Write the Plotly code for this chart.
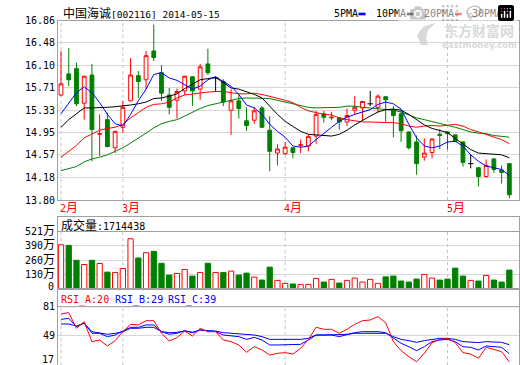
import plotly.graph_objects as go

# ---------------- data ----------------
N = 59
x_idx = list(range(N))

opens = [15.59, 15.95, 16.04, 15.45, 15.93, 14.92, 15.17, 14.69, 15.04, 15.49,
         15.92, 15.85, 16.34, 15.97, 15.59, 15.50, 15.66, 15.90, 15.69, 16.12,
         15.88, 15.82, 15.33, 15.49, 15.15, 15.16, 15.37, 14.99, 14.60, 14.59,
         14.69, 14.73, 14.72, 14.89, 15.27, 15.20, 15.20, 15.13, 15.33, 15.37,
         15.44, 15.38, 15.56, 15.34, 15.27, 14.96, 14.79, 14.53, 14.61, 14.92,
         14.96, 14.91, 14.79, 14.42, 14.35, 14.20, 14.50, 14.31, 14.42]
highs = [16.34, 16.39, 16.14, 15.91, 16.12, 15.26, 15.29, 14.98, 15.49, 16.22,
         16.00, 16.34, 16.79, 16.10, 15.71, 15.70, 15.92, 15.91, 16.12, 16.38,
         15.91, 15.86, 15.69, 15.60, 15.38, 15.38, 15.40, 15.23, 14.75, 14.79,
         14.70, 14.83, 14.92, 15.32, 15.32, 15.30, 15.21, 15.36, 15.57, 15.48,
         15.66, 15.60, 15.57, 15.40, 15.32, 14.97, 14.90, 14.85, 14.85, 15.01,
         14.97, 14.92, 14.80, 14.57, 14.36, 14.49, 14.51, 14.39, 14.43]
lows = [15.57, 15.74, 15.40, 15.17, 14.46, 14.55, 14.70, 14.60, 14.95, 15.48,
        15.54, 15.69, 16.17, 15.49, 15.26, 15.19, 15.59, 15.40, 15.51, 15.93,
        15.65, 15.40, 14.91, 15.19, 14.98, 15.10, 15.03, 14.29, 14.39, 14.57,
        14.51, 14.60, 14.63, 14.76, 15.12, 15.16, 15.00, 15.06, 15.26, 15.15,
        15.40, 15.29, 15.13, 14.87, 14.79, 14.66, 14.23, 14.47, 14.51, 14.67,
        14.66, 14.79, 14.37, 14.34, 14.03, 14.18, 14.26, 14.08, 13.83]
closes = [15.78, 15.85, 15.44, 15.91, 15.00, 14.93, 14.71, 14.97, 15.38, 15.93,
          15.82, 16.26, 16.23, 15.62, 15.38, 15.65, 15.91, 15.66, 16.07, 15.97,
          15.88, 15.47, 15.49, 15.36, 15.07, 15.32, 15.04, 14.63, 14.67, 14.70,
          14.61, 14.74, 14.88, 15.26, 15.21, 15.21, 15.13, 15.24, 15.38, 15.48,
          15.44, 15.57, 15.51, 15.24, 14.98, 14.69, 14.42, 14.60, 14.84, 14.90,
          14.93, 14.80, 14.44, 14.42, 14.20, 14.39, 14.32, 14.27, 13.89]

ma5 = [15.27, 15.46, 15.63, 15.73, 15.63, 15.46, 15.26, 15.10, 15.06, 15.26,
       15.49, 15.69, 15.94, 15.97, 15.88, 15.84, 15.77, 15.69, 15.74, 15.85,
       15.90, 15.82, 15.74, 15.60, 15.42, 15.37, 15.26, 15.09, 14.97, 14.87,
       14.72, 14.70, 14.72, 14.83, 14.94, 15.04, 15.14, 15.21, 15.26, 15.30,
       15.34, 15.43, 15.47, 15.44, 15.35, 15.09, 14.86, 14.72, 14.69, 14.72,
       14.79, 14.80, 14.72, 14.57, 14.46, 14.38, 14.35, 14.32, 14.22]
ma10 = [15.04, 15.17, 15.27, 15.37, 15.37, 15.37, 15.38, 15.39, 15.40, 15.42,
        15.44, 15.47, 15.53, 15.54, 15.57, 15.61, 15.70, 15.78, 15.85, 15.87,
        15.89, 15.80, 15.71, 15.69, 15.65, 15.60, 15.54, 15.40, 15.26, 15.14,
        15.06, 14.97, 14.92, 14.91, 14.90, 14.89, 14.92, 14.99, 15.08, 15.16,
        15.23, 15.30, 15.34, 15.35, 15.33, 15.26, 15.17, 15.08, 15.02, 14.99,
        14.95, 14.85, 14.76, 14.66, 14.60, 14.59, 14.59, 14.57, 14.52]
ma20 = [14.53, 14.63, 14.73, 14.86, 14.93, 14.99, 15.02, 15.04, 15.09, 15.20,
        15.29, 15.38, 15.43, 15.44, 15.47, 15.54, 15.59, 15.61, 15.63, 15.64,
        15.65, 15.65, 15.63, 15.61, 15.61, 15.62, 15.60, 15.57, 15.54, 15.50,
        15.46, 15.38, 15.32, 15.29, 15.26, 15.25, 15.20, 15.17, 15.15, 15.13,
        15.13, 15.12, 15.12, 15.12, 15.10, 15.06, 15.04, 15.06, 15.07, 15.06,
        15.08, 15.09, 15.06, 15.00, 14.96, 14.92, 14.87, 14.83, 14.76]
ma30 = [14.30, 14.33, 14.37, 14.45, 14.50, 14.53, 14.57, 14.63, 14.69, 14.77,
        14.85, 14.94, 15.03, 15.10, 15.14, 15.17, 15.23, 15.30, 15.36, 15.41,
        15.44, 15.47, 15.51, 15.53, 15.54, 15.54, 15.54, 15.53, 15.50, 15.47,
        15.43, 15.40, 15.38, 15.37, 15.37, 15.37, 15.38, 15.40, 15.40, 15.38,
        15.37, 15.36, 15.34, 15.33, 15.30, 15.25, 15.20, 15.17, 15.14, 15.10,
        15.08, 15.04, 15.00, 14.96, 14.94, 14.93, 14.90, 14.89, 14.87]

# volume in 万 (10k shares)
volumes = [401, 395, 260, 222, 260, 231, 153, 150, 186, 455,
           281, 329, 341, 233, 126, 141, 177, 117, 150, 233,
           150, 150, 162, 126, 144, 108, 81, 198, 78, 51,
           45, 42, 42, 96, 63, 87, 54, 78, 99, 63,
           87, 51, 110, 117, 72, 63, 90, 132, 99, 81,
           90, 189, 117, 78, 72, 123, 81, 63, 171.4438]

rsi_a = [72.9, 74.4, 57.1, 64.4, 42.4, 44.2, 37.6, 43.5, 53.4, 61.5,
         60.8, 65.5, 65.5, 51.6, 43.1, 46.8, 54.1, 48.6, 57.1, 53.4,
         53.4, 44.2, 42.4, 38.7, 30.6, 36.8, 33.2, 27.6, 29.5, 30.2,
         28.7, 35.0, 44.9, 58.2, 56.0, 56.0, 51.6, 56.0, 61.5, 65.5,
         66.3, 70.0, 63.3, 42.4, 32.4, 25.8, 20.3, 29.5, 41.3, 44.9,
         46.0, 41.3, 30.2, 28.7, 24.0, 36.1, 33.9, 31.3, 20.0]
rsi_b = [67.0, 68.1, 58.9, 63.3, 51.6, 51.6, 47.9, 49.7, 54.1, 58.2,
         58.2, 60.8, 60.8, 53.4, 50.5, 51.6, 54.5, 52.3, 55.2, 54.1,
         53.4, 49.7, 48.6, 47.9, 44.9, 47.1, 44.2, 38.7, 38.7, 38.7,
         38.7, 39.4, 44.2, 49.7, 49.7, 49.7, 47.9, 50.5, 52.3, 53.4,
         53.4, 53.4, 52.3, 46.0, 40.5, 36.8, 32.4, 36.8, 42.4, 44.2,
         44.9, 42.4, 36.8, 36.1, 33.2, 37.6, 36.8, 36.1, 29.0]
rsi_c = [61.9, 61.9, 59.7, 62.6, 53.4, 52.3, 50.5, 51.6, 53.4, 57.1,
         57.1, 58.2, 58.2, 53.4, 52.3, 52.7, 54.1, 52.7, 55.2, 54.5,
         54.1, 52.3, 51.6, 50.8, 49.7, 49.7, 47.9, 44.9, 44.9, 44.9,
         44.9, 44.9, 46.0, 49.7, 49.7, 49.7, 49.7, 50.5, 51.6, 51.6,
         51.6, 51.6, 51.6, 47.9, 44.9, 43.5, 41.6, 43.5, 44.9, 46.0,
         46.0, 44.9, 42.4, 41.6, 41.3, 42.4, 41.6, 41.6, 39.0]

month_pos = [0, 8, 29, 50]
month_num = ["2", "3", "4", "5"]
price_ticks = [13.80, 14.18, 14.57, 14.95, 15.33, 15.71, 16.10, 16.48, 16.86]
vol_ticks = [130.25, 260.5, 390.75, 521]
vol_tick_nums = ["130", "260", "390", "521"]
rsi_ticks = [49, 81]

stock_name = "中国海诚"
stock_code = "[002116] 2014-05-15"
vol_label = "成交量"
vol_value = ":1714438"
ma_names = ["5PMA", "10PMA", "20PMA", "30PMA"]
rsi_names = ["RSI_A:20", "RSI_B:29", "RSI_C:39"]

# ---------------- styling / layout helpers ----------------
W, H = 520, 365
ML, MR = 58, 1
PW = W - ML - MR


def yp(px):
    return 1 - px / H


def xp(px):
    return (px - ML) / PW


def cjk(s, size=12):
    return f"<span style='font-size:{size}px'>{s}</span>"


RED = "#ff0000"
GREEN = "#008000"
BLUE = "#0000ff"
BLACK = "#000000"
BORDER = "#a0a0a0"
GRID = "#d6d6d6"
DASHC = "#c4c4c4"
WM = "#d9d9d9"
MONO = "DejaVu Sans Mono, Noto Sans CJK SC"
CJK = "Noto Sans CJK SC"

XR = [-0.39, 59.25]
main_dom = [yp(200), yp(20.5)]
vol_dom = [yp(289), yp(216.5)]
rsi_dom = [0, yp(289)]
VOL_TOP = 521 * (289 - 216.5) / (289 - 231.5)
RSI_R = [16.6, 100.5]

flat = [o == c for o, c in zip(opens, closes)]
cs_o = [None if f else v for f, v in zip(flat, opens)]
cs_h = [None if f else v for f, v in zip(flat, highs)]
cs_l = [None if f else v for f, v in zip(flat, lows)]
cs_c = [None if f else v for f, v in zip(flat, closes)]

fig = go.Figure()

# MA lines
for arr, col in zip([ma30, ma20, ma10, ma5], [GREEN, RED, BLACK, BLUE]):
    fig.add_trace(go.Scatter(x=x_idx, y=arr, mode="lines",
                             line=dict(color=col, width=1),
                             xaxis="x", yaxis="y", hoverinfo="skip"))

fig.add_trace(go.Candlestick(
    x=x_idx, open=cs_o, high=cs_h, low=cs_l, close=cs_c,
    increasing=dict(line=dict(color=RED, width=1), fillcolor="#ffffff"),
    decreasing=dict(line=dict(color=GREEN, width=1), fillcolor=GREEN),
    whiskerwidth=0, xaxis="x", yaxis="y", hoverinfo="skip"))

# flat (open == close) candles drawn in black
dx, dy = [], []
for i in x_idx:
    if flat[i]:
        dx += [i - 0.35, i + 0.35, None, i, i, None]
        dy += [opens[i], opens[i], None, highs[i], lows[i], None]
fig.add_trace(go.Scatter(x=dx, y=dy, mode="lines", line=dict(color=BLACK, width=1),
                         xaxis="x", yaxis="y", hoverinfo="skip"))

# volume
up = [c >= o for o, c in zip(opens, closes)]
fig.add_trace(go.Bar(
    x=x_idx, y=volumes, width=0.68,
    marker=dict(color=["#ffffff" if u else GREEN for u in up],
                line=dict(color=[RED if u else GREEN for u in up], width=1)),
    xaxis="x2", yaxis="y2", hoverinfo="skip"))

# RSI
for arr, col in zip([rsi_c, rsi_b, rsi_a], [BLUE, BLUE, RED]):
    fig.add_trace(go.Scatter(x=x_idx, y=arr, mode="lines",
                             line=dict(color=col, width=1),
                             xaxis="x3", yaxis="y3", hoverinfo="skip"))

tickfont = dict(family=MONO, size=10, color=BLACK)
xcommon = dict(range=XR, showticklabels=False, showgrid=False, zeroline=False,
               showline=True, mirror=True, linecolor=BORDER, linewidth=1,
               ticks="", fixedrange=True, automargin=False)
ycommon = dict(showgrid=True, gridcolor=GRID, gridwidth=1, zeroline=False,
               showline=True, mirror=True, linecolor=BORDER, linewidth=1,
               ticks="", tickfont=tickfont, fixedrange=True, automargin=False)

fig.update_layout(
    width=W, height=H,
    margin=dict(l=ML, r=MR, t=0, b=0, pad=0, autoexpand=False),
    paper_bgcolor="white", plot_bgcolor="white",
    showlegend=False, hovermode=False,
    xaxis=dict(**xcommon, domain=[0, 1], anchor="y", rangeslider=dict(visible=False)),
    yaxis=dict(**ycommon, domain=main_dom, anchor="x", range=[13.80, 16.86],
               tickvals=price_ticks, ticktext=[f"{v:.2f}" for v in price_ticks]),
    xaxis2=dict(**xcommon, domain=[0, 1], anchor="y2"),
    yaxis2=dict(**ycommon, domain=vol_dom, anchor="x2", range=[0, VOL_TOP],
                tickvals=vol_ticks, ticktext=[n + cjk("万") for n in vol_tick_nums]),
    xaxis3=dict(**xcommon, domain=[0, 1], anchor="y3"),
    yaxis3=dict(**ycommon, domain=rsi_dom, anchor="x3", range=RSI_R,
                tickvals=rsi_ticks, ticktext=[str(v) for v in rsi_ticks]),
)

shapes = []
# month dashed lines
dash_line = dict(color=DASHC, width=1, dash="3px,3px")
for m in month_pos:
    shapes.append(dict(type="line", xref="x", yref="y", x0=m, x1=m, y0=13.80, y1=16.86,
                       line=dash_line, layer="below"))
    shapes.append(dict(type="line", xref="x2", yref="y2", x0=m, x1=m, y0=0, y1=521,
                       line=dash_line, layer="below"))
    shapes.append(dict(type="line", xref="x3", yref="y3", x0=m, x1=m, y0=RSI_R[0], y1=81,
                       line=dash_line, layer="below"))
# header separator lines
shapes.append(dict(type="line", xref="paper", yref="y2", x0=0, x1=1, y0=521, y1=521,
                   line=dict(color=BORDER, width=1)))
shapes.append(dict(type="line", xref="paper", yref="y3", x0=0, x1=1, y0=81, y1=81,
                   line=dict(color=BORDER, width=1)))
# legend swatches
for (a, b), col in zip([(358.5, 365.5), (406.7, 413.3), (455, 461.7), (502.7, 509.3)],
                       [BLUE, BLACK, RED, GREEN]):
    shapes.append(dict(type="rect", xref="paper", yref="paper", x0=xp(a), x1=xp(b),
                       y0=yp(15.3), y1=yp(12.7), line=dict(width=0), fillcolor=col))
# watermark swoosh
pts = [(421, 45), (417, 35), (423, 27), (437, 22), (428, 30), (426, 38), (428, 45)]
path = "M " + " L ".join(f"{xp(a):.5f},{yp(b):.5f}" for a, b in pts) + " Z"
shapes.append(dict(type="path", xref="paper", yref="paper", path=path,
                   fillcolor=WM, line=dict(width=0), layer="below"))

annotations = []
annotations.append(dict(text=cjk(stock_name) + stock_code, xref="paper", yref="paper",
                        x=xp(61), y=yp(14), xanchor="left", yanchor="middle", showarrow=False,
                        font=dict(family=MONO, size=9.5, color=BLACK)))
for name, px in zip(ma_names, [331.5, 374, 421.5, 470]):
    annotations.append(dict(text=name, xref="paper", yref="paper", x=xp(px), y=yp(14),
                            xanchor="left", yanchor="middle", showarrow=False,
                            font=dict(family=MONO, size=10, color=BLACK)))
# watermark
annotations.append(dict(text="<b>东方财富网</b>", xref="paper", yref="paper", x=xp(479), y=yp(30),
                        xanchor="center", yanchor="middle", showarrow=False,
                        font=dict(family=CJK, size=14, color=WM)))
annotations.append(dict(text="<b>eastmoney.com</b>", xref="paper", yref="paper", x=xp(479), y=yp(45.5),
                        xanchor="center", yanchor="middle", showarrow=False,
                        font=dict(family="DejaVu Sans", size=8.5, color=WM)))
for m, num in zip(month_pos, month_num):
    annotations.append(dict(text=num + cjk("月"), xref="x", yref="paper", x=m, y=yp(207.5),
                            xanchor="left", yanchor="middle", xshift=-3, showarrow=False,
                            font=dict(family=MONO, size=10, color=RED)))
annotations.append(dict(text=cjk(vol_label) + vol_value, xref="paper", yref="paper",
                        x=xp(59), y=yp(225.5), xanchor="left", yanchor="middle", showarrow=False,
                        font=dict(family=MONO, size=10, color=BLACK)))
annotations.append(dict(text="0", xref="paper", yref="paper", x=xp(56), y=yp(286),
                        xanchor="right", yanchor="middle", showarrow=False,
                        font=tickfont))
annotations.append(dict(text="17", xref="paper", yref="paper", x=xp(56), y=yp(359),
                        xanchor="right", yanchor="middle", showarrow=False,
                        font=tickfont))
for name, px, col in zip(rsi_names, [59, 112.5, 166], [RED, BLUE, BLUE]):
    annotations.append(dict(text=name, xref="paper", yref="paper", x=xp(px), y=yp(299.5),
                            xanchor="left", yanchor="middle", showarrow=False,
                            font=dict(family=MONO, size=10, color=col)))

fig.update_layout(shapes=shapes, annotations=annotations)
fig.write_html("out.html",
               post_script="document.body.style.margin='0';document.body.style.padding='0';"
                           "document.documentElement.style.overflow='hidden';")
